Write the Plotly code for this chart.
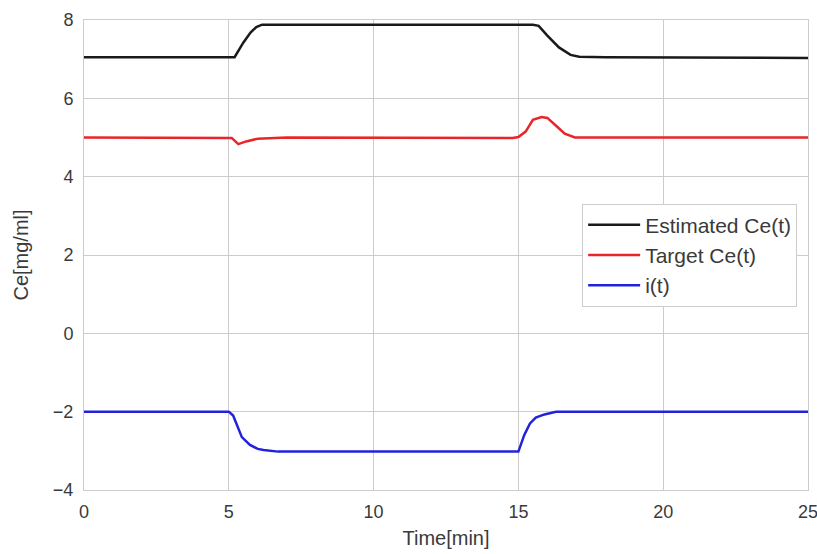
import plotly.graph_objects as go

# Estimated Ce(t)
t_est = [0, 5.2, 5.5, 5.75, 5.95, 6.15, 15.5, 15.7, 16.0, 16.4, 16.8, 17.1, 18.0, 25]
ce_est = [7.05, 7.05, 7.42, 7.68, 7.82, 7.88, 7.88, 7.85, 7.60, 7.30, 7.11, 7.06, 7.05, 7.03]

# Target Ce(t)
t_tgt = [0, 5.1, 5.33, 5.6, 6.0, 7.0, 14.8, 15.0, 15.25, 15.5, 15.8, 16.0, 16.3, 16.6, 16.95, 25]
ce_tgt = [5.0, 4.99, 4.83, 4.9, 4.97, 5.0, 4.99, 5.01, 5.15, 5.45, 5.52, 5.5, 5.3, 5.1, 5.0, 5.0]

# i(t)
t_i = [0, 5.0, 5.15, 5.3, 5.45, 5.73, 6.0, 6.2, 6.7, 15.0, 15.2, 15.4, 15.6, 15.9, 16.3, 25]
i_val = [-2.0, -2.0, -2.1, -2.4, -2.65, -2.85, -2.95, -2.98, -3.02, -3.02, -2.6, -2.3, -2.15, -2.07, -2.0, -2.0]

x_ticks = [0, 5, 10, 15, 20, 25]
y_ticks = [-4, -2, 0, 2, 4, 6, 8]

fig = go.Figure()
fig.add_trace(go.Scatter(x=t_est, y=ce_est, mode="lines", name="Estimated Ce(t)",
                         legendgroup="a", line=dict(color="#1a1a1a", width=2.5)))
fig.add_trace(go.Scatter(x=t_tgt, y=ce_tgt, mode="lines", name="Target Ce(t)",
                         legendgroup="b", line=dict(color="#e8262a", width=2.5)))
fig.add_trace(go.Scatter(x=t_i, y=i_val, mode="lines", name="i(t)",
                         legendgroup="c", line=dict(color="#2222dd", width=2.5)))

font_family = "Liberation Sans, Arial, sans-serif"
fig.update_layout(
    width=817, height=554,
    margin=dict(l=84, r=9, t=20, b=64),
    paper_bgcolor="white", plot_bgcolor="white",
    font=dict(family=font_family, size=18, color="#3a3a3a"),
    showlegend=True,
    legend=dict(x=0.985, y=0.5, xanchor="right", yanchor="middle",
                bgcolor="white", bordercolor="#cccccc", borderwidth=1,
                font=dict(size=21, color="#3a3a3a"), tracegroupgap=0,
                itemwidth=52),
    xaxis=dict(range=[0, 25], tickvals=x_ticks, showgrid=True, gridcolor="#cccccc",
               gridwidth=1, zeroline=False, showline=True, linecolor="#cccccc",
               mirror=True, ticks="outside", ticklen=5, tickcolor="rgba(0,0,0,0)",
               automargin=False, ticklabeloverflow="allow",
               title=dict(text="Time[min]", standoff=10, font=dict(size=20)),
               tickfont=dict(size=18)),
    yaxis=dict(range=[-4, 8], tickvals=y_ticks, showgrid=True, gridcolor="#cccccc",
               gridwidth=1, zeroline=False, showline=True, linecolor="#cccccc",
               mirror=True, ticks="outside", ticklen=6, tickcolor="rgba(0,0,0,0)",
               automargin=False, ticklabeloverflow="allow",
               title=dict(text="Ce[mg/ml]", standoff=18, font=dict(size=20)),
               tickfont=dict(size=18)),
)

fig.write_html("out.html")
